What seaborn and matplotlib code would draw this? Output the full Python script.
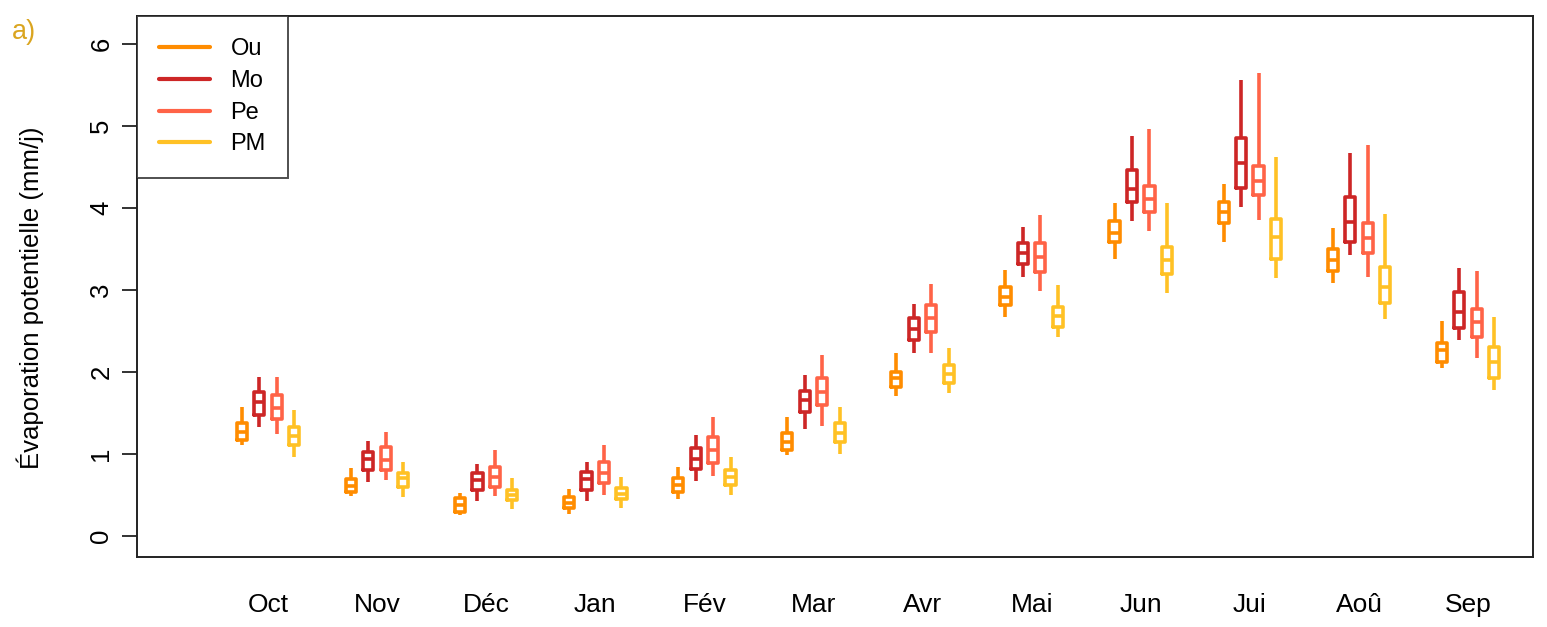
import numpy as np
import pandas as pd
import matplotlib
matplotlib.use("Agg")
import matplotlib.pyplot as plt
import seaborn as sns
from matplotlib.lines import Line2D

months = ["Oct", "Nov", "Déc", "Jan", "Fév", "Mar", "Avr", "Mai", "Jun", "Jui", "Aoû", "Sep"]
series = ["Ou", "Mo", "Pe", "PM"]
colors = ["#FF8C00", "#CD2626", "#FF6347", "#FFC125"]

# Ou
ou_low  = [1.11, 0.49, 0.26, 0.27, 0.45, 0.99, 1.71, 2.67, 3.38, 3.59, 3.09, 2.05]
ou_q1   = [1.17, 0.54, 0.29, 0.34, 0.54, 1.05, 1.82, 2.82, 3.59, 3.82, 3.23, 2.12]
ou_med  = [1.27, 0.61, 0.38, 0.40, 0.62, 1.15, 1.93, 2.91, 3.70, 3.95, 3.37, 2.27]
ou_q3   = [1.38, 0.70, 0.46, 0.48, 0.71, 1.26, 2.00, 3.04, 3.84, 4.07, 3.50, 2.35]
ou_high = [1.57, 0.83, 0.52, 0.57, 0.84, 1.45, 2.23, 3.24, 4.06, 4.29, 3.76, 2.62]
# Mo
mo_low  = [1.33, 0.66, 0.43, 0.43, 0.67, 1.30, 2.23, 3.16, 3.84, 4.01, 3.43, 2.39]
mo_q1   = [1.48, 0.80, 0.56, 0.56, 0.82, 1.51, 2.39, 3.32, 4.07, 4.24, 3.59, 2.54]
mo_med  = [1.63, 0.94, 0.68, 0.70, 0.94, 1.66, 2.52, 3.45, 4.23, 4.55, 3.83, 2.73]
mo_q3   = [1.76, 1.02, 0.77, 0.78, 1.07, 1.77, 2.66, 3.57, 4.46, 4.85, 4.13, 2.98]
mo_high = [1.94, 1.16, 0.88, 0.90, 1.23, 1.96, 2.83, 3.77, 4.88, 5.56, 4.67, 3.27]
# Pe
pe_low  = [1.24, 0.68, 0.49, 0.50, 0.73, 1.34, 2.23, 2.99, 3.72, 3.85, 3.16, 2.17]
pe_q1   = [1.43, 0.80, 0.60, 0.65, 0.89, 1.60, 2.49, 3.22, 3.95, 4.16, 3.45, 2.43]
pe_med  = [1.56, 0.93, 0.72, 0.77, 1.05, 1.76, 2.66, 3.40, 4.11, 4.33, 3.63, 2.61]
pe_q3   = [1.72, 1.09, 0.84, 0.90, 1.21, 1.93, 2.82, 3.57, 4.27, 4.51, 3.82, 2.77]
pe_high = [1.94, 1.27, 1.05, 1.11, 1.45, 2.21, 3.07, 3.91, 4.96, 5.65, 4.77, 3.23]
# PM
pm_low  = [0.96, 0.48, 0.33, 0.34, 0.50, 1.00, 1.74, 2.43, 2.96, 3.15, 2.65, 1.78]
pm_q1   = [1.11, 0.60, 0.44, 0.45, 0.62, 1.15, 1.87, 2.55, 3.20, 3.38, 2.84, 1.93]
pm_med  = [1.22, 0.71, 0.50, 0.51, 0.72, 1.26, 1.97, 2.68, 3.37, 3.65, 3.04, 2.12]
pm_q3   = [1.33, 0.77, 0.56, 0.59, 0.80, 1.38, 2.09, 2.79, 3.52, 3.87, 3.28, 2.30]
pm_high = [1.54, 0.90, 0.71, 0.72, 0.96, 1.57, 2.29, 3.06, 4.06, 4.62, 3.93, 2.67]

stats = {
    "Ou": (ou_low, ou_q1, ou_med, ou_q3, ou_high),
    "Mo": (mo_low, mo_q1, mo_med, mo_q3, mo_high),
    "Pe": (pe_low, pe_q1, pe_med, pe_q3, pe_high),
    "PM": (pm_low, pm_q1, pm_med, pm_q3, pm_high),
}

rows = []
for s in series:
    for i, m in enumerate(months):
        for arr in stats[s]:
            rows.append({"Mois": m, "Série": s, "EP": arr[i]})
df = pd.DataFrame(rows)

sns.set_style("white")
plt.rcParams["font.family"] = ["Liberation Sans", "DejaVu Sans"]
for k in ["text.color", "axes.labelcolor", "xtick.color", "ytick.color"]:
    plt.rcParams[k] = "black"

FS = 18.5

fig = plt.figure(figsize=(15.47, 6.27), dpi=100)
ax = fig.add_axes([137 / 1547, 70 / 627, (1533 - 137) / 1547, (557 - 16) / 627])

sns.boxplot(data=df, x="Mois", y="EP", hue="Série", order=months, hue_order=series,
            palette=colors, fill=False, width=0.64, gap=0.42, whis=(0, 100),
            linewidth=2.6, saturation=1, showcaps=False, legend=False, ax=ax)

ax.set_xlim(-1.201, 11.596)
ax.set_ylim(-0.256, 6.341)
ax.set_yticks(range(7))
ax.set_xlabel("")
ax.set_ylabel("Évaporation potentielle (mm/j)", fontsize=FS)
ax.yaxis.set_label_coords(-0.0666, 0.479)

for sp in ax.spines.values():
    sp.set_visible(True)
    sp.set_color("#222222")
    sp.set_linewidth(1.4)

ax.tick_params(axis="y", which="both", left=True, length=11, width=1.3, color="#222222",
               pad=6, labelsize=FS, direction="out")
ax.tick_params(axis="x", length=0, pad=26, labelsize=FS + 0.5)
plt.setp(ax.get_yticklabels(), rotation=90, va="center")

handles = [Line2D([0], [0], color=c, lw=3.0) for c in colors]
leg = ax.legend(handles, series, loc="upper left", bbox_to_anchor=(0, 1),
                borderaxespad=0, frameon=True, fancybox=False, fontsize=17,
                handlelength=2.16, handletextpad=0.85, labelspacing=0.41,
                borderpad=0.95)
leg.get_frame().set_edgecolor("#222222")
leg.get_frame().set_linewidth(1.4)

fig.text(12 / 1547, 1 - 32 / 627, "a)", color="#DAA520", fontsize=FS + 1, va="center", ha="left")

fig.savefig("out.png", dpi=100)
